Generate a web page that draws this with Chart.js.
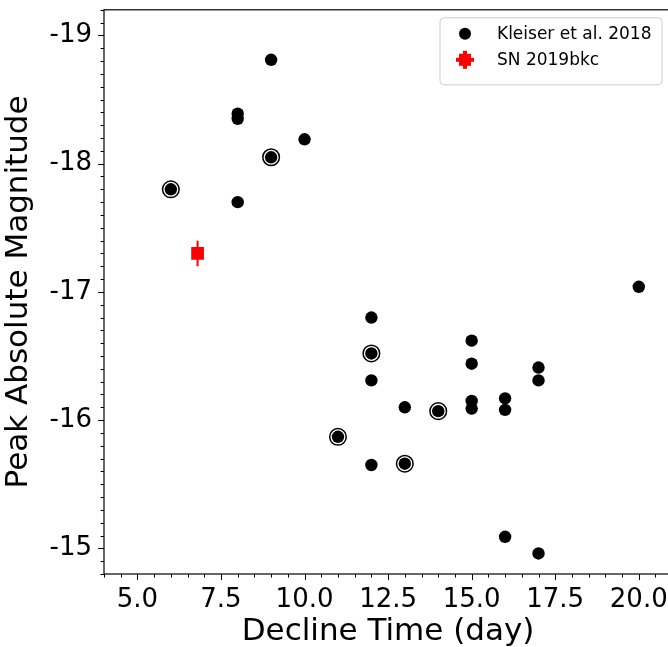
<!DOCTYPE html>
<html>
<head>
<meta charset="utf-8">
<script src="https://cdn.jsdelivr.net/npm/chart.js@4.4.1/dist/chart.umd.min.js"></script>
<style>
  html,body{margin:0;padding:0;background:#fff;overflow:hidden;}
  #wrap{width:668px;height:647px;overflow:hidden;}
</style>
</head>
<body>
<div id="wrap"><canvas id="chart" width="682" height="647"></canvas></div>
<script>
// ===== DATA =====
const kleiserX = [6, 8, 8, 8, 9, 9, 10, 11, 12, 12, 12, 12, 13, 13, 14, 15, 15, 15, 15, 16, 16, 16, 17, 17, 17, 20];
const kleiserY = [-17.80, -18.39, -18.35, -17.70, -18.81, -18.05, -18.19, -15.87, -16.80, -16.52, -16.31, -15.65,
                  -16.10, -15.66, -16.07, -16.62, -16.44, -16.15, -16.09, -16.17, -16.08, -15.09, -16.41, -16.31, -14.96, -17.04];
const circledX = [6, 9, 11, 12, 13, 14];
const circledY = [-17.80, -18.05, -15.87, -16.52, -15.66, -16.07];
const snX = [6.8];
const snY = [-17.30];
const snErr = [0.1];
const xTicks = [5, 7.5, 10, 12.5, 15, 17.5, 20];
const yTicks = [-19, -18, -17, -16, -15];
const legendLabels = ["Kleiser et al. 2018", "SN 2019bkc"];

const FONT = "'DejaVu Sans', sans-serif";

// ===== PLUGINS =====
const framePlugin = {
  id: "frame",
  afterDatasetsDraw(chart){
    const ctx = chart.ctx, a = chart.chartArea;
    const xs = chart.scales.x, ys = chart.scales.y;
    ctx.save();
    // error bars
    ctx.strokeStyle = "#ff0000";
    ctx.lineWidth = 2;
    snX.forEach((x,i)=>{
      let px = xs.getPixelForValue(x);
      ctx.beginPath();
      ctx.moveTo(px, ys.getPixelForValue(snY[i]-snErr[i]));
      ctx.lineTo(px, ys.getPixelForValue(snY[i]+snErr[i]));
      ctx.stroke();
    });
    // frame
    ctx.strokeStyle = "#000";
    ctx.lineWidth = 1.2;
    ctx.strokeRect(a.left, a.top, a.right-a.left, a.bottom-a.top);
    // ticks
    ctx.lineWidth = 1;
    ctx.beginPath();
    for(let v=4; v<=xs.max+1e-9; v+=0.5){
      let px = Math.round(xs.getPixelForValue(v))+0.5;
      let major = Math.abs(v/2.5 - Math.round(v/2.5))<1e-6;
      ctx.moveTo(px, a.bottom);
      ctx.lineTo(px, a.bottom + (major?6:3.5));
    }
    for(let k=-192; k<=-148; k++){
      let v = k/10;
      let py = Math.round(ys.getPixelForValue(v))+0.5;
      let major = k%10===0;
      ctx.moveTo(a.left, py);
      ctx.lineTo(a.left - (major?6:3.5), py);
    }
    ctx.stroke();
    ctx.restore();
  },
  afterDraw(chart){
    // legend box
    const ctx = chart.ctx, a = chart.chartArea;
    const bx = a.left + 336, by = a.top + 8, bw = 222, bh = 67;
    ctx.save();
    ctx.beginPath();
    ctx.roundRect(bx, by, bw, bh, 4);
    ctx.fillStyle = "rgba(255,255,255,0.8)";
    ctx.fill();
    ctx.strokeStyle = "#cccccc";
    ctx.lineWidth = 1;
    ctx.stroke();
    // entry 1
    ctx.fillStyle = "#000";
    ctx.beginPath();
    ctx.arc(bx+25, by+16, 6, 0, Math.PI*2);
    ctx.fill();
    // entry 2
    ctx.fillStyle = "#ff0000";
    ctx.fillRect(bx+19, by+36, 12, 12);
    ctx.fillRect(bx+23, by+33, 4, 18);
    ctx.fillRect(bx+16, by+40, 18, 4);
    ctx.fillStyle = "#000";
    ctx.font = "17px " + FONT;
    ctx.textBaseline = "middle";
    ctx.fillText(legendLabels[0], bx+57, by+17);
    ctx.fillText(legendLabels[1], bx+57, by+43);
    ctx.restore();
  }
};

// ===== CHART =====
new Chart(document.getElementById("chart"), {
  type: "scatter",
  data: {
    datasets: [
      {
        label: "circled",
        data: circledX.map((x,i)=>({x, y: circledY[i]})),
        pointStyle: "circle",
        pointRadius: 8.3,
        backgroundColor: "rgba(0,0,0,0)",
        borderColor: "#000",
        borderWidth: 1.5
      },
      {
        label: legendLabels[0],
        data: kleiserX.map((x,i)=>({x, y: kleiserY[i]})),
        pointStyle: "circle",
        pointRadius: 6.2,
        backgroundColor: "#000",
        borderWidth: 0
      },
      {
        label: legendLabels[1],
        data: snX.map((x,i)=>({x, y: snY[i]})),
        pointStyle: "rect",
        pointRadius: 9,
        backgroundColor: "#ff0000",
        borderWidth: 0
      }
    ]
  },
  options: {
    responsive: false,
    animation: false,
    events: [],
    layout: { padding: { top: 7, right: 4, left: 0, bottom: 0 } },
    plugins: { legend: { display: false }, tooltip: { enabled: false } },
    scales: {
      x: {
        type: "linear",
        min: 4,
        max: 21,
        grid: { display: false, drawTicks: false },
        border: { display: false },
        afterBuildTicks: s => { s.ticks = xTicks.map(v=>({value:v})); },
        afterFit: s => { s.height = 73; s.paddingLeft = 0; s.paddingRight = 0; },
        ticks: {
          font: { family: FONT, size: 26 },
          color: "#000",
          padding: 11,
          maxRotation: 0,
          callback: v => v.toFixed(1)
        },
        title: {
          display: true,
          text: "Decline Time (day)",
          font: { family: FONT, size: 31, lineHeight: 1 },
          color: "#000",
          padding: { top: 0, bottom: 0 }
        }
      },
      y: {
        type: "linear",
        reverse: true,
        min: -19.2,
        max: -14.8,
        grid: { display: false, drawTicks: false },
        border: { display: false },
        afterBuildTicks: s => { s.ticks = yTicks.map(v=>({value:v})); },
        afterFit: s => { s.width = 104; s.paddingTop = 0; s.paddingBottom = 0; },
        ticks: {
          font: { family: FONT, size: 26 },
          color: "#000",
          padding: 12,
          callback: v => "-" + Math.abs(v)
        },
        title: {
          display: true,
          text: "Peak Absolute Magnitude",
          font: { family: FONT, size: 31 },
          color: "#000",
          padding: { top: 0, bottom: 0 }
        }
      }
    }
  },
  plugins: [framePlugin]
});
</script>
</body>
</html>
